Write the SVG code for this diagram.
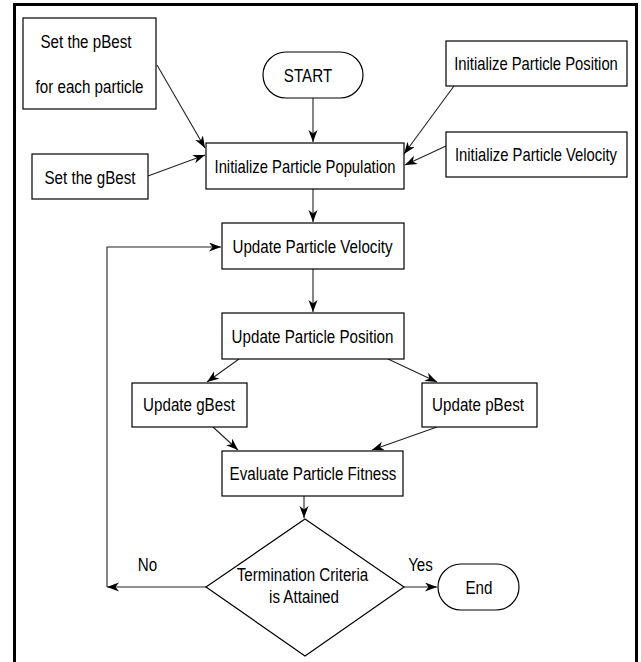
<svg xmlns="http://www.w3.org/2000/svg" width="641" height="662" viewBox="0 0 641 662">
<defs>
<marker id="ah" markerWidth="13" markerHeight="10" refX="12" refY="4.5" orient="auto" markerUnits="userSpaceOnUse">
<path d="M0,0 L12,4.5 L0,9 L3.5,4.5 z" fill="#000"/>
</marker>
<style>
.b{fill:#fff;stroke:#000;stroke-width:1.2}
.t{font-family:"Liberation Sans",Arial,sans-serif;font-size:18.5px;fill:#000;text-anchor:middle}
.c{fill:none;stroke:#222;stroke-width:1.1;marker-end:url(#ah)}
</style>
</defs>
<rect x="0" y="0" width="641" height="662" fill="#fff"/>
<rect x="14.5" y="4.5" width="622" height="680" fill="none" stroke="#000" stroke-width="3"/>

<g id="connectors">
<path class="c" d="M313,98 L313,142"/>
<path class="c" d="M157,65 L205,148"/>
<path class="c" d="M148,176 L205,155"/>
<path class="c" d="M454,86 L404,154"/>
<path class="c" d="M446,146 L405,165"/>
<path class="c" d="M313,189 L313,222"/>
<path class="c" d="M313,269 L313,312"/>
<path class="c" d="M239,359 L207,382"/>
<path class="c" d="M388,359 L437,382"/>
<path class="c" d="M213,427 L238,450"/>
<path class="c" d="M437,427 L372,450"/>
<path class="c" d="M304,496 L304,518"/>
<path class="c" d="M206,587 L107,587"/>
<path class="c" d="M107,587 L107,247 L221,247"/>
<path class="c" d="M404,587 L437,587"/>
</g>

<g id="set-pbest">
<rect class="b" x="23" y="18" width="133" height="91"/>
<text class="t" transform="translate(86,48) scale(0.82,1)">Set the pBest</text>
<text class="t" transform="translate(89.5,93) scale(0.82,1)">for each particle</text>
</g>
<g id="set-gbest">
<rect class="b" x="32" y="154" width="116" height="45"/>
<text class="t" transform="translate(90,184) scale(0.82,1)">Set the gBest</text>
</g>
<g id="start">
<rect class="b" x="263" y="52" width="100" height="46" rx="23" ry="23"/>
<text class="t" transform="translate(308,82) scale(0.82,1)">START</text>
</g>
<g id="init-position">
<rect class="b" x="446" y="41" width="181" height="45"/>
<text class="t" transform="translate(536,70) scale(0.8,1)">Initialize Particle Position</text>
</g>
<g id="init-velocity">
<rect class="b" x="446" y="132" width="181" height="45"/>
<text class="t" transform="translate(536,161) scale(0.8,1)">Initialize Particle Velocity</text>
</g>
<g id="init-population">
<rect class="b" x="206" y="143" width="198" height="46"/>
<text class="t" transform="translate(305,173) scale(0.8,1)">Initialize Particle Population</text>
</g>
<g id="update-velocity">
<rect class="b" x="222" y="223" width="182" height="46"/>
<text class="t" transform="translate(312.5,253) scale(0.82,1)">Update Particle Velocity</text>
</g>
<g id="update-position">
<rect class="b" x="222" y="313" width="182" height="46"/>
<text class="t" transform="translate(312.5,343) scale(0.82,1)">Update Particle Position</text>
</g>
<g id="update-gbest">
<rect class="b" x="132" y="383" width="115" height="44"/>
<text class="t" transform="translate(189,411) scale(0.82,1)">Update gBest</text>
</g>
<g id="update-pbest">
<rect class="b" x="422" y="383" width="115" height="44"/>
<text class="t" transform="translate(478,411) scale(0.82,1)">Update pBest</text>
</g>
<g id="evaluate">
<rect class="b" x="222" y="451" width="181" height="45"/>
<text class="t" transform="translate(313,480) scale(0.82,1)">Evaluate Particle Fitness</text>
</g>
<g id="termination">
<polygon class="b" points="305,519 404,587 305,656 206,587"/>
<text class="t" transform="translate(302.5,581) scale(0.82,1)">Termination Criteria</text>
<text class="t" transform="translate(304,603) scale(0.82,1)">is Attained</text>
</g>
<g id="end">
<rect class="b" x="438" y="564" width="81" height="46" rx="23" ry="23"/>
<text class="t" transform="translate(479,594) scale(0.82,1)">End</text>
</g>
<g id="labels">
<text class="t" transform="translate(147.5,571) scale(0.82,1)">No</text>
<text class="t" transform="translate(420.5,571) scale(0.82,1)">Yes</text>
</g>
</svg>
